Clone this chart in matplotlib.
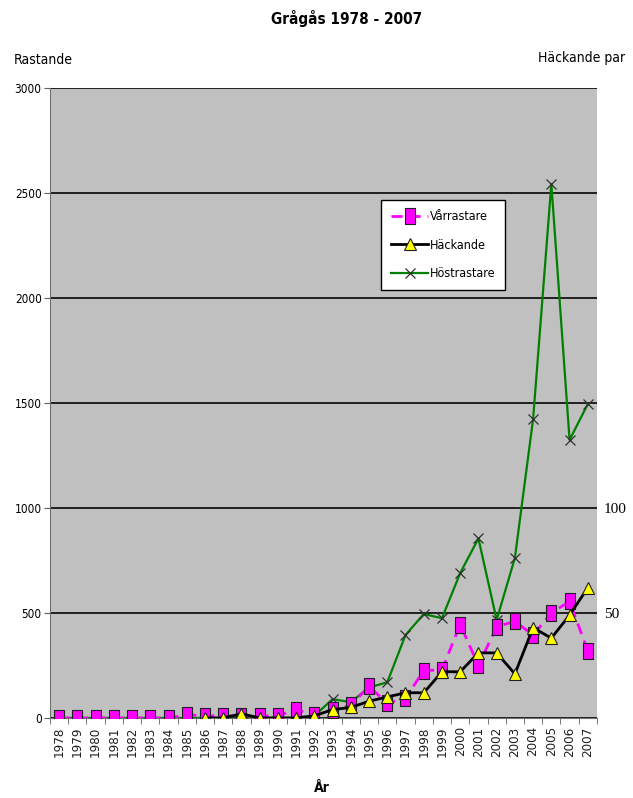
import matplotlib.pyplot as plt
from matplotlib.path import Path
import numpy as np

years = list(range(1978, 2008))
varrastare = [0, 0, 0, 0, 0, 0, 0, 15, 10, 10, 10, 10, 10, 40, 15, 40, 60, 150, 70, 95,
              225, 230, 445, 250, 435, 460, 395, 500, 555, 320]
hackande = [None] * 8 + [0, 0, 2, 0, 0, 0, 1, 4, 5, 8, 10, 12, 12, 22, 22, 31, 31, 21,
                         43, 38, 49, 62]
hostrastare = [0, 0, 0, 0, 0, 0, 0, 0, 0, 0, 15, 0, 0, 0, 10, 90, 75, 145, 170, 395,
               495, 475, 690, 855, 467, 762, 1424, 2543, 1324, 1495]

plt.rcParams['font.family'] = ['DejaVu Sans']
plt.rcParams['font.stretch'] = 'condensed'

hack = np.array([np.nan if v is None else v for v in hackande], dtype=float)
x = np.arange(len(years))

# tall rectangle marker like Excel's
rect = Path([(-0.32, -0.5), (0.32, -0.5), (0.32, 0.5), (-0.32, 0.5), (-0.32, -0.5)],
            [Path.MOVETO, Path.LINETO, Path.LINETO, Path.LINETO, Path.CLOSEPOLY])

fig = plt.figure(figsize=(6.33, 7.98), dpi=100)
ax = fig.add_axes([0.079, 0.1003, 0.864, 0.7894])
ax.set_facecolor('#c0c0c0')

l3, = ax.plot(x, hostrastare, color='#008000', lw=1.6, marker='x', markersize=7,
              markeredgecolor='#303030', markeredgewidth=0.9, zorder=3, label='Höstrastare')
l1, = ax.plot(x, varrastare, color='#ff00ff', lw=2, ls=(0, (4, 2.5)), marker=rect,
              markersize=12, markerfacecolor='#ff00ff', markeredgecolor='#202020',
              markeredgewidth=0.8, zorder=4, label='Vårrastare')

ax.set_xlim(-0.5, len(years) - 0.5)
ax.set_ylim(0, 3000)
ax.set_yticks(np.arange(0, 3001, 500))
ax.yaxis.grid(True, color='#202020', lw=1.4)
ax.set_axisbelow(True)
ax.tick_params(axis='y', labelsize=8.5, length=4, color='#606060', pad=2)
ax.set_xticks(x)
ax.set_xticklabels([str(y) for y in years], rotation=90, fontsize=9.5, color='#202020')
ax.tick_params(axis='x', length=0, pad=6)
ax.set_xticks(np.arange(-0.5, len(years)), minor=True)
ax.tick_params(axis='x', which='minor', length=4, color='#606060')
for s in ['left', 'bottom']:
    ax.spines[s].set_color('#707070')
for s in ['top', 'right']:
    ax.spines[s].set_visible(False)

ax2 = ax.twinx()
l2, = ax2.plot(x, hack, color='black', lw=2, marker='^', markersize=9,
               markerfacecolor='#ffff00', markeredgecolor='#202020',
               markeredgewidth=0.8, zorder=5, label='Häckande')
ax2.set_ylim(0, 300)
ax2.set_yticks([50, 100])
ax2.tick_params(axis='y', length=0, pad=5)
for lab in ax2.get_yticklabels():
    lab.set_family('Liberation Serif')
    lab.set_fontsize(11)
for s in ax2.spines.values():
    s.set_visible(False)

leg = ax2.legend(handles=[l1, l2, l3], loc='upper left',
                 bbox_to_anchor=(0.605, 0.822), fontsize=9, framealpha=1,
                 frameon=True, fancybox=False, edgecolor='black', handlelength=3.0,
                 labelspacing=1.25, borderpad=0.8, handletextpad=0.1, borderaxespad=0)
leg.get_frame().set_linewidth(1)
leg.get_frame().set_facecolor('white')
leg.set_zorder(10)

fig.text(0.548, 0.977, 'Grågås 1978 - 2007', ha='center', va='center',
         fontsize=11, fontweight='bold')
fig.text(0.021, 0.925, 'Rastande', ha='left', va='center', fontsize=10)
fig.text(0.987, 0.927, 'Häckande par', ha='right', va='center', fontsize=10)
fig.text(0.509, 0.013, 'År', ha='center', va='center', fontsize=10, fontweight='bold')

fig.savefig('out.png', dpi=100)
